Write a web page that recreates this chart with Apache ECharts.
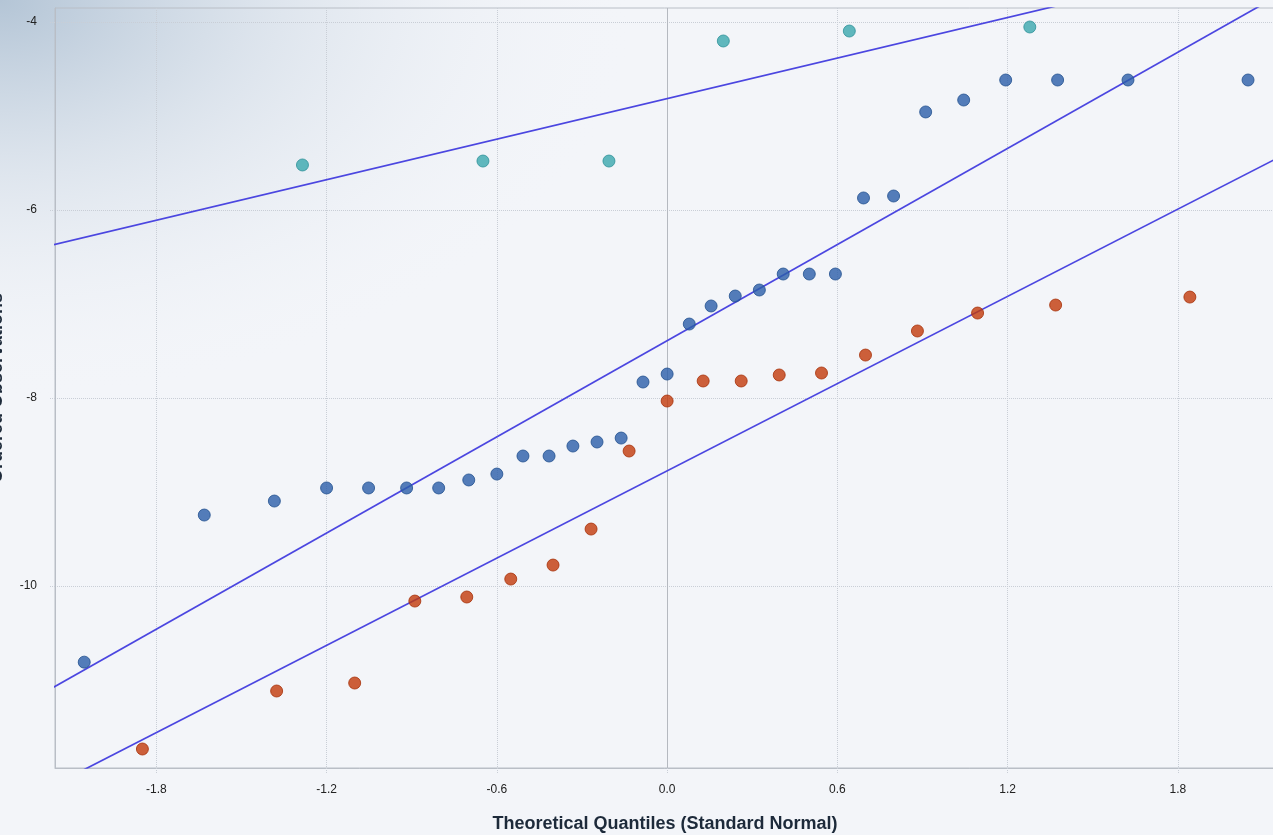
<!DOCTYPE html>
<html>
<head>
<meta charset="utf-8">
<script src="https://cdn.jsdelivr.net/npm/echarts@6/dist/echarts.min.js"></script>
<style>html,body{margin:0;padding:0;background:#f3f5f9;}#c{width:1273px;height:835px;}</style>
</head>
<body>
<div id="c"></div>
<script>
// ---- data ----
var xTicks = [-1.8, -1.2, -0.6, 0.0, 0.6, 1.2, 1.8];
var yTicks = [-10, -8, -6, -4];

var blueQ = [-2.054,-1.631,-1.384,-1.200,-1.052,-0.918,-0.805,-0.699,-0.600,-0.508,-0.416,-0.332,-0.247,-0.162,-0.085,0.000,0.078,0.155,0.240,0.325,0.409,0.501,0.593,0.692,0.798,0.911,1.045,1.193,1.376,1.624,2.047];
var blueObs = [-10.81,-9.245,-9.096,-8.957,-8.957,-8.957,-8.957,-8.872,-8.809,-8.617,-8.617,-8.511,-8.468,-8.426,-7.830,-7.745,-7.213,-7.021,-6.915,-6.851,-6.681,-6.681,-6.681,-5.872,-5.851,-4.957,-4.830,-4.617,-4.617,-4.617,-4.617];

var redQ = [-1.849,-1.376,-1.101,-0.889,-0.706,-0.551,-0.402,-0.268,-0.134,0.000,0.127,0.261,0.395,0.544,0.699,0.882,1.094,1.369,1.842];
var redObs = [-11.734,-11.117,-11.032,-10.160,-10.117,-9.926,-9.777,-9.394,-8.564,-8.032,-7.819,-7.819,-7.755,-7.734,-7.543,-7.287,-7.096,-7.011,-6.926];

var tealQ = [-1.285,-0.649,-0.205,0.198,0.642,1.278];
var tealObs = [-5.521,-5.479,-5.479,-4.202,-4.096,-4.053];

// reference lines: [intercept, slope]
var blueFit = [-7.39, 1.705];
var redFit = [-8.775, 1.547];
var tealFit = [-4.815, 0.719];

var lineRange = [-2.5, 2.5];

function zip(a, b) { return a.map(function (v, i) { return [v, b[i]]; }); }
function fitLine(f) { return lineRange.map(function (x) { return [x, f[0] + f[1] * x]; }); }

var chart = echarts.init(document.getElementById('c'));
var labelFont = 'Liberation Sans, Arial, sans-serif';
var gridColor = '#c9ced6';

function pointSeries(data, color, border) {
  return {
    type: 'scatter', data: data, symbol: 'circle', symbolSize: 12, z: 3,
    itemStyle: { color: color, borderColor: border, borderWidth: 1 }
  };
}
function lineSeries(data) {
  return {
    type: 'line', data: data, symbol: 'none', z: 2, silent: true,
    lineStyle: { color: '#4b46e0', width: 1.7 }
  };
}

chart.setOption({
  animation: false,
  backgroundColor: '#f3f5f9',
  graphic: [{
    type: 'circle', z: -10, silent: true,
    shape: { cx: 0, cy: 0, r: 400 },
    scaleX: 1.6, scaleY: 1, x: 0, y: 0,
    style: {
      fill: {
        type: 'radial', x: 0.5, y: 0.5, r: 0.5,
        colorStops: [
          { offset: 0, color: 'rgba(180,197,214,1)' },
          { offset: 0.4, color: 'rgba(214,223,233,0.8)' },
          { offset: 1, color: 'rgba(243,245,249,0)' }
        ]
      }
    }
  }],
  grid: {
    left: 55, top: 8, right: -2, bottom: 67,
    outerBoundsMode: 'none', containLabel: false,
    show: true, borderColor: '#b9bec6', borderWidth: 1, backgroundColor: 'transparent'
  },
  xAxis: {
    type: 'value', min: -2.157, max: 2.142,
    name: 'Theoretical Quantiles (Standard Normal)',
    nameLocation: 'middle', nameGap: 47,
    nameTextStyle: { fontFamily: labelFont, fontSize: 18, fontWeight: 'bold', color: '#1d2a3a' },
    axisLine: { show: true, onZero: false, lineStyle: { color: '#b9bec6' } },
    axisTick: { show: true, customValues: xTicks, length: 6, inside: false, lineStyle: { color: gridColor, type: 'dotted' } },
    axisLabel: { customValues: xTicks, margin: 16, fontFamily: labelFont, fontSize: 12, color: '#222',
      formatter: function (v) { return v.toFixed(1); } },
    splitLine: { show: true, lineStyle: { color: gridColor, type: 'dotted' } }
  },
  yAxis: {
    type: 'value', min: -11.936, max: -3.851,
    name: 'Ordered Observations',
    nameLocation: 'middle', nameGap: 49,
    nameTextStyle: { fontFamily: labelFont, fontSize: 18, fontWeight: 'bold', color: '#1d2a3a' },
    axisLine: { show: true, onZero: false, lineStyle: { color: '#b9bec6' } },
    axisTick: { show: true, customValues: yTicks, length: 6, lineStyle: { color: gridColor, type: 'dotted' } },
    axisLabel: { customValues: yTicks, margin: 18, fontFamily: labelFont, fontSize: 12, color: '#222' },
    splitLine: { show: true, lineStyle: { color: gridColor, type: 'dotted' } }
  },
  series: [
    lineSeries(fitLine(tealFit)),
    lineSeries(fitLine(blueFit)),
    lineSeries(fitLine(redFit)),
    Object.assign(pointSeries(zip(blueQ, blueObs), '#2b5ea9', '#22508f'), {
      markLine: {
        silent: true, symbol: 'none', label: { show: false }, z: 1,
        lineStyle: { color: '#b5b9c0', type: 'solid', width: 1 },
        data: [{ xAxis: 0 }]
      }
    }),
    pointSeries(zip(redQ, redObs), '#c23a0a', '#a63007'),
    pointSeries(zip(tealQ, tealObs), '#3aa7ae', '#2d9198')
  ]
});
</script>
</body>
</html>
